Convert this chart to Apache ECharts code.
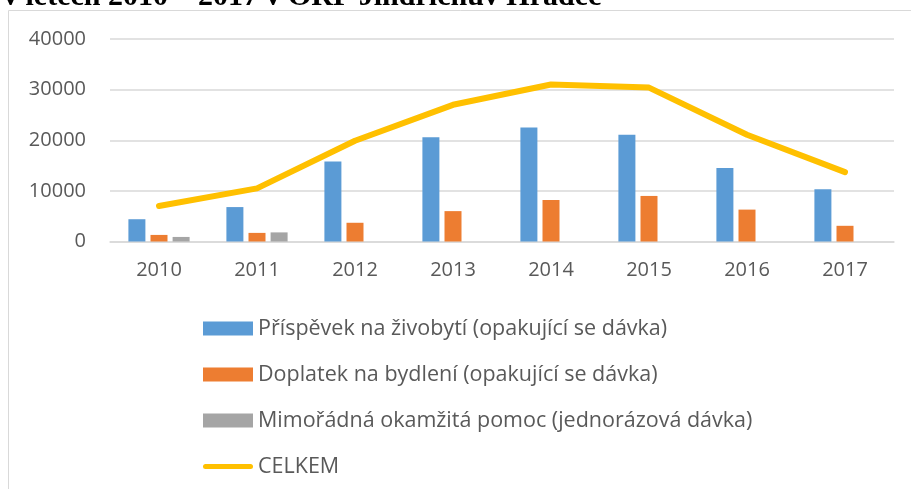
<!DOCTYPE html>
<html>
<head>
<meta charset="utf-8">
<script src="https://cdn.jsdelivr.net/npm/echarts@6/dist/echarts.min.js"></script>
<style>
  html, body { margin: 0; padding: 0; background: #fff; }
  #main { width: 911px; height: 489px; }
</style>
</head>
<body>
<div id="main"></div>
<script>
// roky
const years = ["2010", "2011", "2012", "2013", "2014", "2015", "2016", "2017"];
// hodnoty jednotlivých dávek
const prispevek = [4400, 6800, 15800, 20600, 22500, 21100, 14500, 10300];
const doplatek = [1300, 1700, 3700, 6000, 8200, 9000, 6300, 3100];
const mimoradna = [900, 1800, 0, 0, 0, 0, 0, 0];
const celkem = [7000, 10500, 19900, 27000, 31000, 30400, 21100, 13700];
const yTicks = [0, 10000, 20000, 30000, 40000];

const font = "Open Sans";
const textColor = "#595959";
// ikona legendy pro čáru (zaoblená)
const lineIcon = "path://M2.5,0 L47.5,0 A2.5,2.5 0 0 1 47.5,5 L2.5,5 A2.5,2.5 0 0 1 2.5,0 Z";

let myChart = echarts.init(document.getElementById("main"));

let option = {
    animation: false,
    textStyle: { fontFamily: font },
    graphic: [
        {
            type: "rect",
            shape: { x: 8.5, y: 10.5, width: 1000, height: 1000 },
            style: { fill: "none", stroke: "#D9D9D9", lineWidth: 1 },
            silent: true
        },
        {
            type: "text",
            x: 3,
            y: 12,
            style: {
                text: "v letech 2010 – 2017 v ORP Jindřichův Hradec",
                font: "bold 30px 'Liberation Serif'",
                fill: "#000",
                verticalAlign: "bottom"
            }
        }
    ],
    legend: {
        orient: "vertical",
        left: 198,
        top: 312.5,
        itemWidth: 50,
        itemHeight: 14,
        itemGap: 24,
        textStyle: { fontSize: 21.5, color: textColor, fontFamily: font, lineHeight: 22 },
        data: [
            { name: "Příspěvek na živobytí (opakující se dávka)", icon: "rect" },
            { name: "Doplatek na bydlení (opakující se dávka)", icon: "rect" },
            { name: "Mimořádná okamžitá pomoc (jednorázová dávka)", icon: "rect" },
            { name: "CELKEM", icon: lineIcon }
        ]
    },
    grid: { left: 110, right: 17, top: 39, bottom: 247.5 },
    xAxis: {
        type: "category",
        data: years,
        axisTick: { show: false },
        axisLine: { lineStyle: { color: "#D9D9D9", width: 1.5 } },
        axisLabel: { color: textColor, fontSize: 20, margin: 19 }
    },
    yAxis: {
        type: "value",
        min: yTicks[0],
        max: yTicks[yTicks.length - 1],
        interval: 10000,
        axisLine: { show: false },
        axisTick: { show: false },
        splitLine: { lineStyle: { color: "#D9D9D9", width: 1.5 } },
        axisLabel: {
            color: textColor,
            fontSize: 20,
            margin: 24,
            formatter: function (v) { return String(v); }
        }
    },
    series: [
        {
            name: "Příspěvek na živobytí (opakující se dávka)",
            type: "bar",
            data: prispevek,
            barWidth: 17,
            barGap: "30%",
            itemStyle: { color: "#5B9BD5" }
        },
        {
            name: "Doplatek na bydlení (opakující se dávka)",
            type: "bar",
            data: doplatek,
            barWidth: 17,
            barGap: "30%",
            itemStyle: { color: "#ED7D31" }
        },
        {
            name: "Mimořádná okamžitá pomoc (jednorázová dávka)",
            type: "bar",
            data: mimoradna,
            barWidth: 17,
            barGap: "30%",
            itemStyle: { color: "#A5A5A5" }
        },
        {
            name: "CELKEM",
            type: "line",
            data: celkem,
            symbol: "none",
            lineStyle: { color: "#FFC000", width: 6, cap: "round", join: "round" },
            itemStyle: { color: "#FFC000" }
        }
    ]
};

myChart.setOption(option);
</script>
</body>
</html>
